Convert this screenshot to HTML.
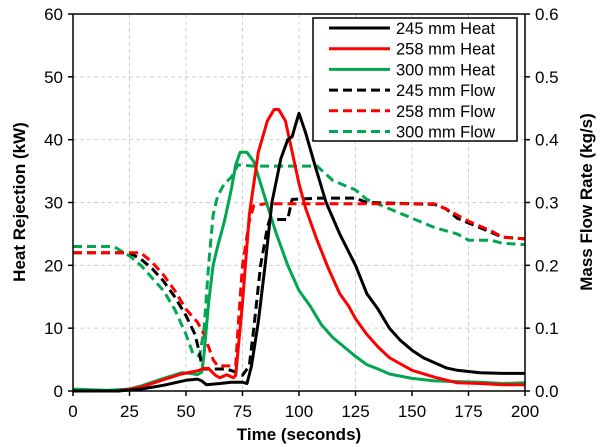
<!DOCTYPE html>
<html><head><meta charset="utf-8"><style>
body{margin:0;background:#fff;}
svg{display:block;font-family:"Liberation Sans",Arial,sans-serif;}
</style></head><body>
<svg id="chart" width="600" height="447" viewBox="0 0 600 447" xmlns="http://www.w3.org/2000/svg">
<g id="grid"></g>
<g id="series"></g>
<g id="axes"></g>
<text x="299" y="440" font-size="17" font-weight="bold" text-anchor="middle">Time (seconds)</text>
<text transform="translate(25,202) rotate(-90)" font-size="17" font-weight="bold" text-anchor="middle">Heat Rejection (kW)</text>
<text transform="translate(592,202) rotate(-90)" font-size="17" font-weight="bold" text-anchor="middle">Mass Flow Rate (kg/s)</text>
<g id="legend"></g>
</svg>
<script>
const xTicks=[0,25,50,75,100,125,150,175,200];
const yTicksLeft=[0,10,20,30,40,50,60];
const yTicksRight=["0.0","0.1","0.2","0.3","0.4","0.5","0.6"];
const seriesNames=["245 mm Heat","258 mm Heat","300 mm Heat","245 mm Flow","258 mm Flow","300 mm Flow"];
const heat245T=[0,20,30,40,50,55,57,59,65,70,75,77,79,82,85,88,92,95,97,99,100,103,107,112,118,125,130,135,140,145,150,155,160,165,170,175,180,190,200];
const heat245V=[0,0,0.3,0.9,1.7,1.9,1.6,1.0,1.2,1.4,1.4,1.2,4,11,20,30,37,40,40.5,43,44.2,41,36,30,25,20,15.5,13,10,8,6.5,5.3,4.5,3.7,3.3,3.1,2.9,2.8,2.8];
const heat258T=[0,20,30,40,48,55,58,60,63,65,68,71,72,75,78,82,86,89,91,94,97,100,103,108,113,118,122,125,130,135,140,145,150,160,170,180,190,200];
const heat258V=[0,0,0.6,1.8,2.7,3.2,3.6,3.6,2.5,2.1,2.6,2.1,2.5,14,28,38,43,44.8,44.8,43,38,33,29,24,19.5,15.5,13.5,11.5,9,7,5.3,4.3,3.3,2.2,1.3,1.2,1.0,1.0];
const heat300T=[0,15,20,25,30,40,48,52,55,57,58,60,62,64,67,70,72,74,77,80,83,86,90,95,100,105,110,115,120,125,130,135,140,150,160,170,180,190,200];
const heat300V=[0.3,0.1,0.2,0.3,0.8,2,2.9,2.8,2.6,3,6,14,20,23,27,32,36,38,38,36.5,33,29.5,25,20,16,13.5,10.5,8.5,7,5.5,4.2,3.5,2.7,2.0,1.6,1.5,1.4,1.2,1.3];
const flow245T=[0,25,30,35,40,45,50,54,56,57,58,62,68,72,75,78,80,83,85,86,87,95,96,97,110,125,130,160,165,170,180,190,200];
const flow245V=[0.22,0.22,0.21,0.195,0.175,0.15,0.12,0.09,0.06,0.04,0.035,0.035,0.035,0.03,0.025,0.04,0.1,0.2,0.24,0.26,0.273,0.273,0.29,0.305,0.307,0.307,0.30,0.297,0.29,0.275,0.26,0.245,0.242];
const flow258T=[0,30,35,40,45,50,55,58,60,62,64,70,72,73,75,78,80,85,160,165,175,185,190,200];
const flow258V=[0.22,0.22,0.205,0.185,0.16,0.13,0.11,0.09,0.07,0.05,0.04,0.04,0.04,0.1,0.2,0.27,0.295,0.298,0.298,0.29,0.27,0.255,0.245,0.242];
const flow300T=[0,18,25,30,35,40,45,50,53,56,58,60,62,64,67,70,73,80,108,115,125,130,140,150,160,170,175,185,190,200];
const flow300V=[0.23,0.23,0.215,0.2,0.18,0.16,0.13,0.09,0.06,0.055,0.1,0.2,0.28,0.31,0.33,0.34,0.36,0.358,0.358,0.335,0.32,0.305,0.29,0.275,0.26,0.25,0.24,0.24,0.235,0.233];

const NS="http://www.w3.org/2000/svg";
const X0=73,X1=525,Y0=391,Y1=14;
const xs=t=>X0+(t/200)*(X1-X0);
const yL=v=>Y0-(v/60)*(Y0-Y1);
const yR=v=>Y0-(v/0.6)*(Y0-Y1);
function mk(tag,attrs,parent){const e=document.createElementNS(NS,tag);for(const k in attrs)e.setAttribute(k,attrs[k]);parent.appendChild(e);return e;}
const grid=document.getElementById('grid'),axes=document.getElementById('axes'),ser=document.getElementById('series'),leg=document.getElementById('legend');
xTicks.forEach(t=>{if(t>0&&t<200){const l=mk('line',{x1:xs(t),x2:xs(t),y1:Y1,y2:Y0,stroke:'#d0d0d0','stroke-dasharray':'4,3'},grid);

}
const tx=mk('text',{x:xs(t),y:Y0+26,'font-size':'17','text-anchor':'middle'},axes);tx.textContent=t;


mk('line',{x1:xs(t),x2:xs(t),y1:Y0,y2:Y0+5,stroke:'#000','stroke-width':1.5},axes);});
yTicksLeft.forEach((v,i)=>{if(v>0&&v<60){const l=mk('line',{x1:X0,x2:X1,y1:yL(v),y2:yL(v),stroke:'#d0d0d0','stroke-dasharray':'4,3'},grid);

}
const a=mk('text',{x:X0-10,y:yL(v)+6,'font-size':'17','text-anchor':'end'},axes);a.textContent=v;


const b=mk('text',{x:X1+10,y:yL(v)+6,'font-size':'17','text-anchor':'start'},axes);b.textContent=yTicksRight[i];


mk('line',{x1:X0-5,x2:X0,y1:yL(v),y2:yL(v),stroke:'#000','stroke-width':1.5},axes);
mk('line',{x1:X1,x2:X1+5,y1:yL(v),y2:yL(v),stroke:'#000','stroke-width':1.5},axes);});
mk('line',{x1:X0,x2:X0,y1:Y1,y2:Y0,stroke:'#000','stroke-width':1.5},axes);
mk('line',{x1:X1,x2:X1,y1:Y1,y2:Y0,stroke:'#000','stroke-width':1.5},axes);
mk('line',{x1:X0,x2:X1,y1:Y0,y2:Y0,stroke:'#000','stroke-width':1.5},axes);
mk('line',{x1:X0,x2:X1,y1:Y1,y2:Y1,stroke:'#000','stroke-width':1.5},axes);
const defs=[[heat245T,heat245V,yL,'#000',false,'line-245-heat'],[heat258T,heat258V,yL,'#ff0000',false,'line-258-heat'],[heat300T,heat300V,yL,'#00a650',false,'line-300-heat'],
[flow245T,flow245V,yR,'#000',true,'line-245-flow'],[flow258T,flow258V,yR,'#ff0000',true,'line-258-flow'],[flow300T,flow300V,yR,'#00a650',true,'line-300-flow']];
const order=[5,3,4,2,1,0];
order.forEach(i=>{const[d,v,yf,c,dash,name]=defs[i];const pts=d.map((t,j)=>xs(t).toFixed(1)+','+yf(v[j]).toFixed(1)).join(' ');
const a={points:pts,fill:'none',stroke:c,'stroke-width':3,'stroke-linejoin':'round'};if(dash)a['stroke-dasharray']='9,5';
const p=mk('polyline',a,ser);

});
const box=mk('rect',{x:313,y:18,width:204,height:123,fill:'#fff',stroke:'#000','stroke-width':1.5},leg);


seriesNames.forEach((n,i)=>{const y=28+i*20.7;const c=defs[i][3];const a={x1:329,x2:390,y1:y,y2:y,stroke:c,'stroke-width':3};if(defs[i][4])a['stroke-dasharray']='9,5';
mk('line',a,leg);const t=mk('text',{x:396,y:y+6,'font-size':'16.5'},leg);t.textContent=n;

});
</script>
</body></html>
